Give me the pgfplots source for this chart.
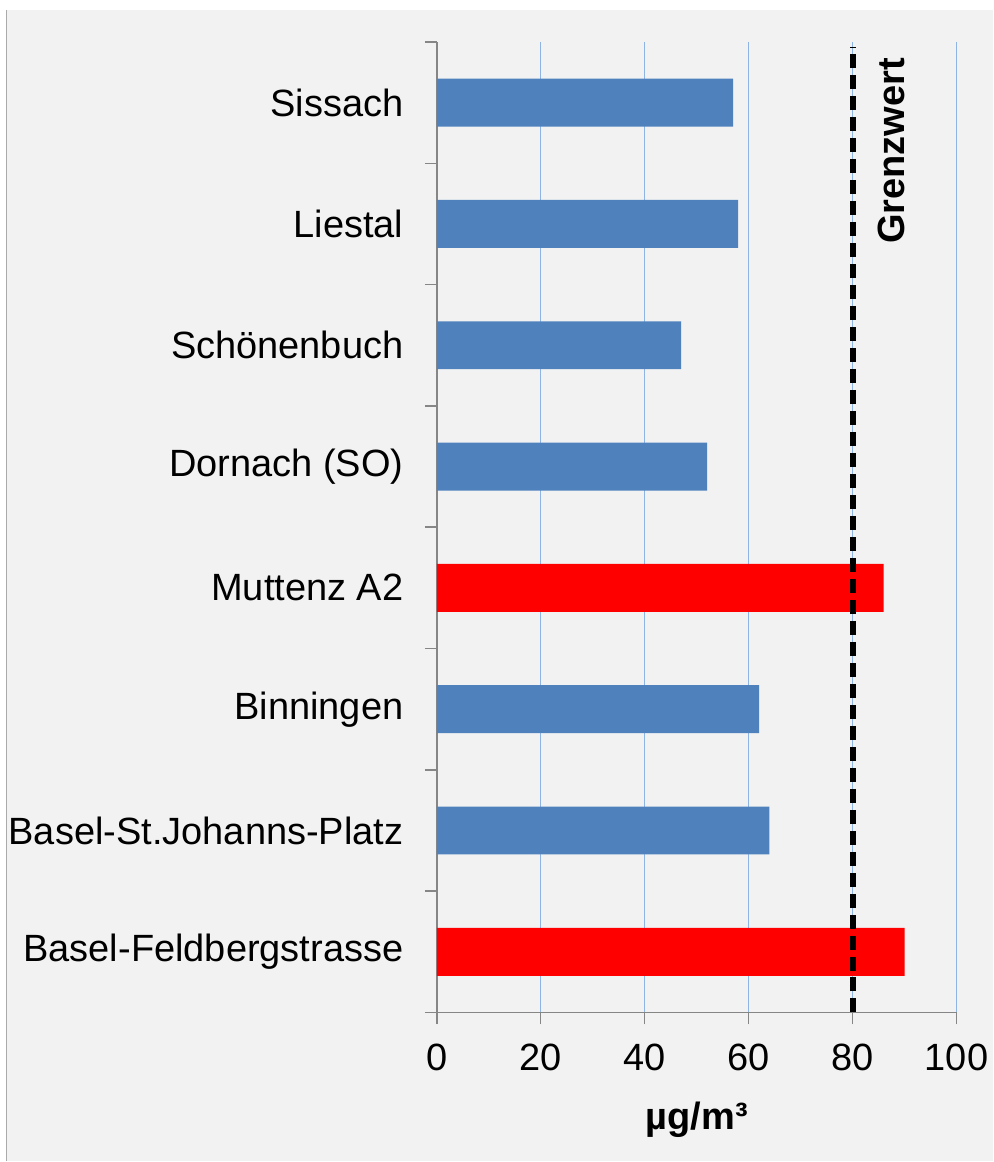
\documentclass[border=0pt]{standalone}
\usepackage{pgfplots}
\pgfplotsset{compat=1.18}
\usepackage{fontspec}
\setmainfont{Liberation Sans}
\definecolor{bg}{HTML}{F2F2F2}
\definecolor{barblue}{HTML}{4F81BD}
\definecolor{gridblue}{HTML}{8EB4E3}
\definecolor{axgray}{HTML}{868686}
\begin{document}
\begin{tikzpicture}
% background (1px = 0.5pt)
\fill[white] (-218.5pt,-74.5pt) rectangle (278.5pt,506.5pt);
\fill[bg] (-215pt,-74.5pt) rectangle (278.5pt,501.5pt);
\draw[axgray!70,line width=0.6pt] (-215.3pt,-74.5pt) -- (-215.3pt,501.5pt);
\begin{axis}[
  at={(0,0)}, anchor=south west,
  scale only axis,
  width=260pt, height=485.5pt,
  xmin=0, xmax=100,
  ymin=-0.5, ymax=7.5,
  axis x line*=bottom, axis y line*=left,
  axis line style={axgray, line width=0.75pt},
  xtick={0,20,40,60,80,100},
  ytick={-0.5,0.5,...,7.5},
  yticklabels={},
  extra y ticks={0,...,7},
  extra y tick labels={Basel-Feldbergstrasse,Basel-St.Johanns-Platz,Binningen,Muttenz A2,Dornach (SO),Schönenbuch,Liestal,Sissach},
  extra y tick style={major tick length=0pt, yticklabel style={anchor=east, inner sep=0pt, xshift=-16.5pt}},
  tick align=outside,
  major tick length=6pt,
  every tick/.style={axgray, line width=0.75pt},
  xmajorgrids, grid style={gridblue, line width=0.5pt},
  /pgf/number format/assume math mode=true,
  tick label style={font=\fontsize{19}{22}\selectfont},
  xticklabel style={anchor=base, inner sep=0pt, yshift=-23pt},
  clip=false,
]
\addplot[xbar, bar width=24pt, bar shift=0pt, fill=red, draw=none] coordinates {(90,0) (86,3)};
\addplot[xbar, bar width=24pt, bar shift=0pt, fill=barblue, draw=none] coordinates {(64,1) (62,2) (52,4) (47,5) (58,6) (57,7)};
\addplot[sharp plot, black, line width=3pt, dash pattern=on 7pt off 3.5pt, mark=none] coordinates {(80,-0.5) (80,7.46)};
\node[rotate=90, anchor=base east, inner sep=0pt, font=\fontsize{19}{22}\selectfont\bfseries] at (axis cs:90,7.37) {Grenzwert};
\node[anchor=base, inner sep=0pt, font=\fontsize{19}{22}\selectfont\bfseries] at ([yshift=-58.5pt]axis cs:50,-0.5) {µg/m³};
\end{axis}
\end{tikzpicture}
\end{document}
